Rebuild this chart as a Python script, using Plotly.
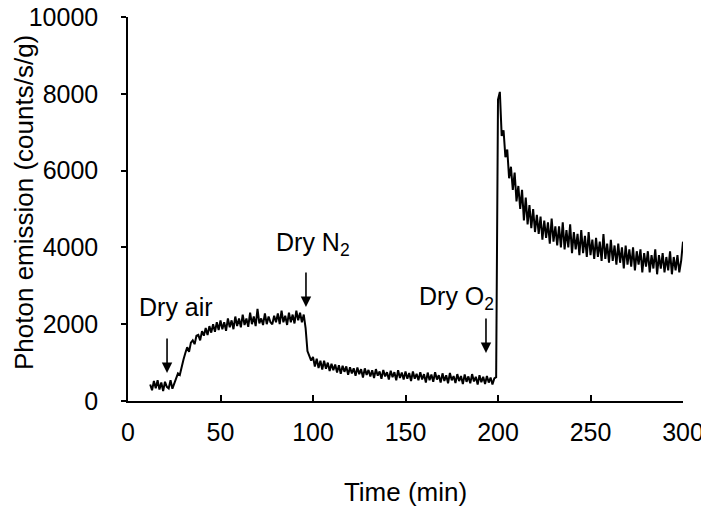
import plotly.graph_objects as go

# Time (min), sampled every minute from 12 to 300
time_min = list(range(12, 301))

# Photon emission (counts/s/g)
photon = [
    430, 280, 520, 330, 540, 300, 480, 260, 500, 370,
    330, 540, 320, 450, 600, 720, 680, 920, 1080, 1250,
    1400, 1280, 1520, 1580, 1480, 1700, 1720, 1580, 1820, 1700,
    1900, 1720, 1950, 1780, 2000, 1800, 2050, 1850, 2100, 1870,
    2050, 1830, 2150, 1920, 2100, 1870, 2200, 1950, 2150, 1920,
    2250, 1980, 2150, 1930, 2300, 2000, 2200, 1950, 2400, 2020,
    2150, 1980, 2280, 2000, 2200, 2050, 2000, 2220, 2050, 2280,
    2000, 2350, 2050, 2220, 1980, 2300, 2050, 2250, 2020, 2350,
    2100, 2300, 2050, 2250, 1900, 1300, 1150, 1050, 1150, 900,
    1100, 860, 1050, 820, 1050, 840, 1000, 780, 970, 800,
    950, 740, 930, 710, 920, 760, 900, 680, 880, 720,
    850, 660, 870, 700, 830, 610, 850, 680, 810, 640,
    800, 600, 830, 660, 770, 580, 810, 640, 750, 560,
    790, 620, 750, 540, 800, 600, 740, 560, 770, 580,
    730, 520, 770, 580, 710, 540, 750, 560, 700, 480,
    740, 540, 690, 500, 750, 560, 670, 480, 720, 520,
    670, 460, 730, 540, 650, 470, 700, 520, 650, 440,
    690, 500, 640, 460, 700, 510, 630, 430, 670, 490,
    630, 440, 650, 480, 610, 430, 590, 620, 7850, 8050,
    6900, 7050, 6350, 6550, 5800, 6100, 5500, 5950, 5200, 5600,
    5000, 5500, 4700, 5300, 4600, 5100, 4500, 5000, 4400, 4850,
    4350, 4800, 4200, 4700, 4250, 4650, 4100, 4750, 4150, 4550,
    4050, 4550, 4000, 4650, 3950, 4450, 4000, 4600, 3850, 4400,
    3950, 4350, 3800, 4450, 3850, 4300, 3750, 4400, 3800, 4200,
    3700, 4250, 3750, 4150, 3650, 4350, 3700, 4100, 3600, 4200,
    3650, 4050, 3550, 4100, 3600, 4000, 3450, 4050, 3550, 3950,
    3500, 4000, 3400, 3900, 3550, 3950, 3350, 3850, 3500, 3900,
    3350, 3800, 3450, 3950, 3300, 3800, 3450, 3850, 3350, 3750,
    3400, 3900, 3300, 3750, 3400, 3800, 3350, 3650, 4150,
]

# Event labels and where their arrows point (time, emission)
event_labels = ["Dry air", "Dry N<sub>2</sub>", "Dry O<sub>2</sub>"]
event_x = [21.1, 96.2, 193.5]
event_y = [730, 2450, 1250]

x_ticks = [0, 50, 100, 150, 200, 250, 300]
y_ticks = [0, 2000, 4000, 6000, 8000, 10000]
y_tick_text = ["0", "2000", "4000", "6000", "8000", "10000"]

FONT = "Liberation Sans, Arial, sans-serif"
FS = 25

fig = go.Figure()
fig.add_trace(go.Scatter(
    x=time_min, y=photon, mode="lines",
    line=dict(color="black", width=2),
    showlegend=False, hoverinfo="skip",
))

# arrows
for ex, ey in zip(event_x, event_y):
    fig.add_annotation(
        x=ex, y=ey, xref="x", yref="y", text="", showarrow=True,
        ax=0, ay=-36, arrowhead=2, arrowsize=1.3, arrowwidth=1.6,
        arrowcolor="black",
    )

# text label centres (data coordinates)
label_x = [25.9, 100.0, 177.3]
label_y = [2450, 4090, 2680]
for lab, lx, ly in zip(event_labels, label_x, label_y):
    fig.add_annotation(
        x=lx, y=ly, xref="x", yref="y", text=lab, showarrow=False,
        font=dict(size=FS, color="black", family=FONT),
        xanchor="center", yanchor="middle",
    )

# y-axis title as a rotated annotation
fig.add_annotation(
    x=0, y=0.5, xref="paper", yref="paper", text="Photon emission (counts/s/g)",
    showarrow=False, textangle=-90, xanchor="center", yanchor="middle",
    xshift=-104, yshift=6, font=dict(size=26, color="black", family=FONT),
)

# the page body adds an 8px margin, so the figure is 8px smaller and shifted
fig.update_layout(
    width=701, height=502,
    margin=dict(l=120, r=26, t=9, b=109),
    paper_bgcolor="white", plot_bgcolor="white",
    font=dict(family=FONT, size=FS, color="black"),
    xaxis=dict(
        range=[0, 300], tickvals=x_ticks, ticks="inside", ticklen=6,
        tickwidth=1.5, tickcolor="black", showline=True, linecolor="black",
        linewidth=1.5, showgrid=False, zeroline=False, automargin=False,
        ticklabelstandoff=8, ticklabeloverflow="allow",
        title=dict(text="Time (min)", standoff=38, font=dict(size=26)),
    ),
    yaxis=dict(
        range=[0, 10000], tickvals=y_ticks, ticktext=y_tick_text,
        ticks="outside", ticklen=5,
        tickwidth=1.5, tickcolor="black", showline=True, linecolor="black",
        linewidth=1.5, showgrid=False, zeroline=False, automargin=False,
        ticklabelstandoff=18, ticklabeloverflow="allow",
    ),
)

fig.write_html("out.html")
